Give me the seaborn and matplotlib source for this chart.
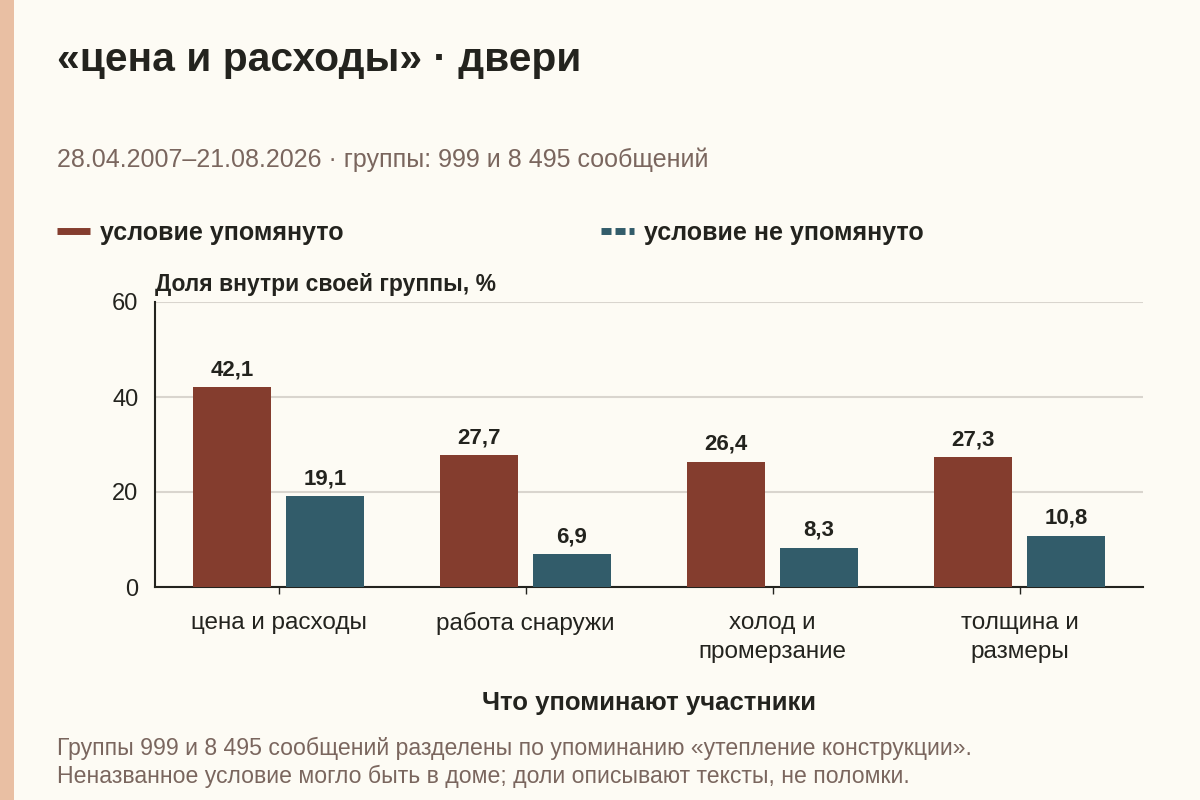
import matplotlib
matplotlib.use('Agg')
import matplotlib.pyplot as plt
from matplotlib.lines import Line2D
from matplotlib.patches import Rectangle
import seaborn as sns
import pandas as pd

# --- data ---
categories = ["цена и расходы", "работа снаружи", "холод и\nпромерзание", "толщина и\nразмеры"]
mentioned = [42.1, 27.7, 26.4, 27.3]
not_mentioned = [19.1, 6.9, 8.3, 10.8]
series_names = ["условие упомянуто", "условие не упомянуто"]
y_ticks = [0, 20, 40, 60]

BG = "#FDFBF4"
RED = "#843D2E"
TEAL = "#325C6A"
INK = "#23231E"
MUTED = "#7A665E"

sns.set_theme(style="white")
plt.rcParams['font.family'] = ['Liberation Sans', 'DejaVu Sans']

df = pd.DataFrame({
    "cat": categories * 2,
    "val": mentioned + not_mentioned,
    "grp": [series_names[0]] * 4 + [series_names[1]] * 4,
})

fig = plt.figure(figsize=(12, 8), dpi=100, facecolor=BG)
# left accent stripe
fig.patches.append(Rectangle((0, 0), 14 / 1200, 1, transform=fig.transFigure,
                             facecolor="#E9BFA3", edgecolor="none", zorder=0))

ax = fig.add_axes([155 / 1200, 1 - 587 / 800, (1143 - 155) / 1200, (587 - 302) / 800])
ax.set_facecolor(BG)

sns.barplot(data=df, x="cat", y="val", hue="grp", order=categories,
            hue_order=series_names, palette=[RED, TEAL], width=0.75, gap=0.16,
            saturation=1, linewidth=0, edgecolor="none",
            legend=False, ax=ax, zorder=3)

for cont in ax.containers:
    ax.bar_label(cont, labels=[f"{b.get_height():.1f}".replace(".", ",") for b in cont],
                 padding=5, fontsize=16, fontweight="bold", color=INK)

ax.set_ylim(0, 60)
ax.set_xlim(-0.5, 3.5)
ax.set_yticks(y_ticks)
ax.yaxis.grid(True, color="#D9D5CE", linewidth=1.5, zorder=0)
ax.set_axisbelow(True)
for s in ["top", "right"]:
    ax.spines[s].set_visible(False)
for s in ["left", "bottom"]:
    ax.spines[s].set_color(INK)
    ax.spines[s].set_linewidth(1.5)
ax.tick_params(axis="y", length=0, labelsize=17, labelcolor=INK, pad=12)
ax.tick_params(axis="x", bottom=True, length=5, width=1, color=INK, labelsize=17.5,
               labelcolor=INK, pad=13, direction="out")
for lbl in ax.get_xticklabels():
    lbl.set_linespacing(1.4)
ax.set_ylabel("")
ax.set_xlabel("Что упоминают участники", fontsize=18.5, fontweight="bold", color=INK, labelpad=20)

ax.text(0, 1.02, "Доля внутри своей группы, %", transform=ax.transAxes,
        fontsize=16.5, fontweight="bold", color=INK, ha="left", va="bottom")

fig.text(57 / 1200, 1 - 60 / 800, "«цена и расходы» · двери", fontsize=29.3,
         fontweight="bold", color=INK, ha="left", va="center")
fig.text(57 / 1200, 1 - 160 / 800, "28.04.2007–21.08.2026 · группы: 999 и 8 495 сообщений",
         fontsize=18, color=MUTED, ha="left", va="center")

handles = [Line2D([0], [0], color=RED, lw=5, solid_capstyle="butt"),
           Line2D([0], [0], color=TEAL, lw=5, ls=(0, (1.44, 0.58)), dash_capstyle="butt")]
leg = fig.legend(handles, series_names, loc="center left", bbox_to_anchor=(57 / 1200, 1 - 233 / 800),
                 ncol=2, frameon=False, handlelength=1.32, handletextpad=0.4, columnspacing=10.3,
                 borderaxespad=0, borderpad=0, prop={"size": 18, "weight": "bold"})
for t in leg.get_texts():
    t.set_color(INK)

fig.text(57 / 1200, 1 - 748 / 800, "Группы 999 и 8 495 сообщений разделены по упоминанию «утепление конструкции».",
         fontsize=16.6, color=MUTED, ha="left", va="center")
fig.text(57 / 1200, 1 - 776 / 800, "Неназванное условие могло быть в доме; доли описывают тексты, не поломки.",
         fontsize=16.6, color=MUTED, ha="left", va="center")

fig.savefig("out.png", dpi=100, facecolor=BG)
